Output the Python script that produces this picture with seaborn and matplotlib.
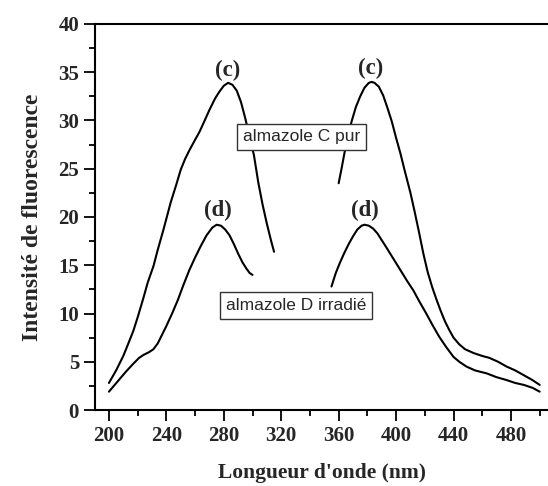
import matplotlib
matplotlib.use("Agg")
import matplotlib.pyplot as plt
import seaborn as sns
import pandas as pd
from matplotlib.ticker import MultipleLocator

# ---- data ----
c_exc_nm = [200, 205, 210, 213, 217, 220, 224, 227, 231, 234, 238, 243, 247, 250, 253, 256, 260, 263, 267, 270, 274,
            277, 280, 283, 286, 289, 292, 295, 298, 301, 304, 307, 310, 313, 315]
c_exc_val = [2.8, 4.1, 5.6, 6.7, 8.2, 9.6, 11.6, 13.2, 14.9, 16.6, 18.7, 21.5, 23.4, 24.9, 26.0, 26.9, 28.0, 28.8, 30.1, 31.1, 32.3,
             33.0, 33.6, 33.9, 33.7, 33.1, 31.9, 30.2, 28.3, 26.4, 23.6, 21.3, 19.3, 17.5, 16.4]

d_exc_nm = [200, 204, 208, 212, 217, 221, 224, 228, 231, 234, 237, 240, 244, 248, 252, 256, 260, 264, 268, 272, 275,
            278, 281, 284, 287, 290, 293, 296, 298, 300]
d_exc_val = [1.9, 2.6, 3.3, 4.0, 4.8, 5.4, 5.7, 6.0, 6.3, 6.9, 7.8, 8.7, 10.0, 11.4, 13.0, 14.5, 15.8, 17.0, 18.1, 18.9, 19.2,
             19.1, 18.7, 18.1, 17.2, 16.2, 15.3, 14.6, 14.2, 14.0]

c_em_nm = [360, 362, 364, 366, 369, 372, 375, 378, 381, 383, 385, 388, 391, 394, 397, 400, 403, 406, 410, 413, 416,
           419, 422, 425, 428, 431, 434, 437, 440, 444, 448, 454, 460, 465, 471, 477, 483, 489, 495, 500]
c_em_val = [23.5, 25.0, 26.6, 28.0, 29.9, 31.4, 32.5, 33.4, 33.9, 34.0, 33.9, 33.5, 32.6, 31.3, 29.9, 28.2, 26.6, 24.8, 22.5, 20.5, 18.4,
            16.2, 14.3, 12.8, 11.5, 10.3, 9.2, 8.3, 7.5, 6.8, 6.3, 5.9, 5.6, 5.4, 5.0, 4.5, 4.1, 3.6, 3.1, 2.6]

d_em_nm = [355, 358, 361, 364, 367, 370, 373, 376, 378, 381, 384, 387, 390, 393, 398, 403, 408, 412, 416, 421, 425,
           430, 435, 440, 444, 449, 455, 463, 470, 477, 483, 489, 495, 500]
d_em_val = [12.8, 14.2, 15.3, 16.3, 17.2, 18.0, 18.7, 19.1, 19.2, 19.1, 18.8, 18.3, 17.6, 16.9, 15.7, 14.5, 13.3, 12.4, 11.3, 10.0, 8.9,
            7.6, 6.5, 5.5, 5.0, 4.5, 4.1, 3.8, 3.4, 3.1, 2.8, 2.6, 2.3, 1.9]

peak_labels = ["(c)", "(c)", "(d)", "(d)"]
peak_x = [283, 382, 276, 378]
peak_y = [35.2, 35.4, 20.7, 20.7]

box_texts = ["almazole C pur", "almazole D irradié"]
box_x = [334.2, 330.5]
box_y = [28.3, 10.85]

x_label = "Longueur d'onde (nm)"
y_label = "Intensité de fluorescence"
x_ticks = [200, 240, 280, 320, 360, 400, 440, 480]
y_ticks = [0, 5, 10, 15, 20, 25, 30, 35, 40]

# ---- build table ----
frames = []
for name, xs, ys in [("c_exc", c_exc_nm, c_exc_val), ("d_exc", d_exc_nm, d_exc_val),
                     ("c_em", c_em_nm, c_em_val), ("d_em", d_em_nm, d_em_val)]:
    frames.append(pd.DataFrame({"nm": xs, "val": ys, "curve": name}))
df = pd.concat(frames, ignore_index=True)

sns.set_style("ticks")
plt.rcParams['font.family'] = ['Liberation Serif', 'DejaVu Serif']

fig = plt.figure(figsize=(5.48, 4.86), dpi=100)
ax = fig.add_axes([95/548, 1 - 410/486, 1 - 95/548, (410 - 24)/486])

for name in ["c_exc", "d_exc", "c_em", "d_em"]:
    sns.lineplot(data=df[df.curve == name], x="nm", y="val", ax=ax,
                 color="black", linewidth=1.5, estimator=None, sort=False)

ax.set_xlim(190.3, 505.8)
ax.set_ylim(0, 40)
ax.set_xticks(x_ticks)
ax.xaxis.set_minor_locator(MultipleLocator(20))
ax.set_yticks(y_ticks)
ax.yaxis.set_minor_locator(MultipleLocator(2.5))

ax.tick_params(axis='both', which='major', direction='out', length=8, width=1.3,
               labelsize=15, color='black')
ax.tick_params(axis='both', which='minor', direction='out', length=4, width=1.3, color='black')
for lab in ax.get_xticklabels() + ax.get_yticklabels():
    lab.set_fontweight('bold')

for side in ['left', 'bottom', 'top']:
    ax.spines[side].set_visible(True)
    ax.spines[side].set_linewidth(1.5)
    ax.spines[side].set_color('black')
ax.spines['right'].set_visible(False)

ax.set_xlabel(x_label, fontsize=15.5, fontweight='bold', labelpad=12)
ax.set_ylabel(y_label, fontsize=17, fontweight='bold', labelpad=11)

for t, x, y in zip(peak_labels, peak_x, peak_y):
    ax.text(x, y, t, fontsize=16.5, fontweight='bold', ha='center', va='center')

for t, x, y in zip(box_texts, box_x, box_y):
    ax.text(x, y, t, fontsize=12.5, family=['Liberation Sans', 'DejaVu Sans'],
            ha='center', va='center',
            bbox=dict(boxstyle='square,pad=0.33', facecolor='white', edgecolor='#333333', linewidth=1))

fig.savefig("out.png", dpi=100)
